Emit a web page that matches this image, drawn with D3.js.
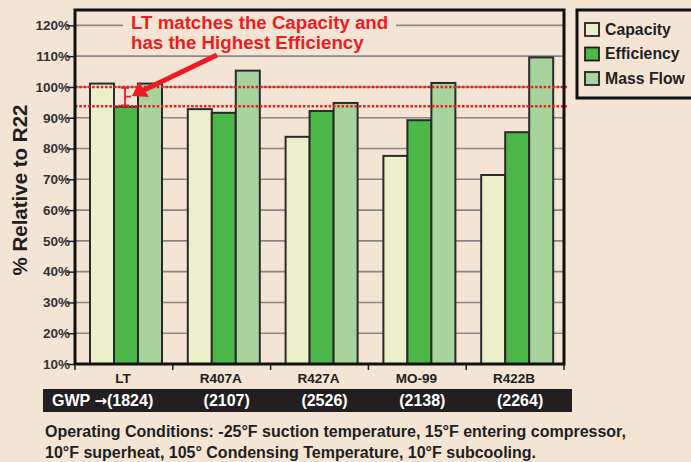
<!DOCTYPE html>
<html>
<head>
<meta charset="utf-8">
<script src="https://cdn.jsdelivr.net/npm/d3@7"></script>
<style>
  body { margin: 0; background: #f3e4d3; }
  svg { display: block; font-family: "Liberation Sans", Arial, sans-serif; font-weight: bold; }
</style>
</head>
<body>
<div id="root"></div>
<script>
const categories = ["LT", "R407A", "R427A", "MO-99", "R422B"];
const gwpValues = ["1824", "2107", "2526", "2138", "2264"];
const seriesNames = ["Capacity", "Efficiency", "Mass Flow"];
const capacity = [101.1, 92.8, 83.8, 77.6, 71.4];
const efficiency = [93.6, 91.6, 92.2, 89.2, 85.3];
const massFlow = [101.1, 105.3, 94.8, 101.3, 109.6];
const yTicks = [10, 20, 30, 40, 50, 60, 70, 80, 90, 100, 110, 120];
const refLines = [100, 93.7];

const colors = ["#ebf0cb", "#4cb648", "#a7d49d"];
const ink = "#231f20";
const red = "#ec1c24";
const bg = "#f3e4d3";

const width = 691, height = 462;
const plot = { left: 75, right: 564, top: 10, bottom: 364 };

const svg = d3.select("#root").append("svg")
	.attr("width", width)
	.attr("height", height);

svg.append("rect").attr("width", width).attr("height", height).attr("fill", bg);

// scales
const y = d3.scaleLinear().domain([10, 125]).range([plot.bottom, plot.top]);
const x0 = d3.scaleBand().domain(categories).range([plot.left, plot.right]);
const x1 = d3.scaleBand().domain(seriesNames).range([15, 87]);

const rows = categories.map((c, i) => ({
	cat: c,
	values: [capacity[i], efficiency[i], massFlow[i]]
}));

// grid lines
svg.append("g")
	.selectAll("line")
	.data(yTicks.slice(1))
	.enter().append("line")
		.attr("x1", plot.left).attr("x2", plot.right)
		.attr("y1", d => y(d)).attr("y2", d => y(d))
		.style("stroke", "#8a8784")
		.style("stroke-width", 1.6);

// y axis ticks and labels
const yAxis = svg.append("g").attr("transform", `translate(${plot.left},0)`)
	.call(d3.axisLeft(y).tickValues(yTicks).tickFormat(d => d + "%").tickSize(8).tickPadding(-3));
yAxis.select(".domain").remove();
yAxis.selectAll(".tick line").style("stroke", ink).style("stroke-width", 1.5);
yAxis.selectAll(".tick text")
	.style("font-family", "'Liberation Sans', Arial, sans-serif")
	.style("font-weight", "bold")
	.style("font-size", "13.5px")
	.style("fill", "#333");

// x axis tick marks at band edges
svg.append("g")
	.selectAll("line")
	.data(categories.map(c => x0(c)).concat([plot.right]))
	.enter().append("line")
		.attr("x1", d => d).attr("x2", d => d)
		.attr("y1", plot.bottom).attr("y2", plot.bottom + 6)
		.style("stroke", ink).style("stroke-width", 1.5);

// bars
const groups = svg.selectAll(".group")
	.data(rows).enter()
	.append("g")
		.attr("class", "group")
		.attr("transform", d => `translate(${x0(d.cat)},0)`);

groups.selectAll("rect")
	.data(d => d.values.map((v, i) => ({ v, s: seriesNames[i], i })))
	.enter().append("rect")
		.attr("x", d => x1(d.s))
		.attr("y", d => y(d.v))
		.attr("width", x1.bandwidth())
		.attr("height", d => plot.bottom - y(d.v))
		.style("fill", d => colors[d.i])
		.style("stroke", "#2a2a2a")
		.style("stroke-width", 2);

// red dotted reference lines
svg.append("g")
	.selectAll("line")
	.data(refLines).enter()
	.append("line")
		.attr("x1", plot.left).attr("x2", plot.right + 3)
		.attr("y1", d => y(d)).attr("y2", d => y(d))
		.style("stroke", red)
		.style("stroke-width", 2.5)
		.style("stroke-dasharray", "2.5,1.8");

// plot frame
svg.append("rect")
	.attr("x", plot.left).attr("y", plot.top)
	.attr("width", plot.right - plot.left)
	.attr("height", plot.bottom - plot.top)
	.style("fill", "none")
	.style("stroke", "#111")
	.style("stroke-width", 3);

// annotation
svg.append("rect")
	.attr("x", 123).attr("y", 14).attr("width", 273).attr("height", 38)
	.style("fill", bg);

const note = svg.append("text")
	.style("fill", red)
	.style("font-size", "18.7px");
note.append("tspan").attr("x", 131).attr("y", 29).text("LT matches the Capacity and");
note.append("tspan").attr("x", 131).attr("y", 49).text("has the Highest Efficiency");

// arrow
svg.append("line")
	.attr("x1", 217).attr("y1", 55)
	.attr("x2", 144).attr("y2", 90)
	.style("stroke", red).style("stroke-width", 5);
svg.append("path")
	.attr("d", "M132,96 L139,82 L149,97 Z")
	.style("fill", red);

// bracket between lines
const bTop = y(refLines[0]) + 1, bBot = y(refLines[1]) - 1;
svg.append("path")
	.attr("d", `M121,${bTop} L129,${bTop} M125,${bTop} L125,${bBot} M121,${bBot} L129,${bBot} M125,${(bTop + bBot) / 2} L131,${(bTop + bBot) / 2}`)
	.style("stroke", red).style("stroke-width", 1.8).style("fill", "none");

// category labels
svg.append("g")
	.selectAll("text")
	.data(categories).enter()
	.append("text")
		.attr("x", d => x0(d) + x0.bandwidth() / 2 - 1)
		.attr("y", 383)
		.attr("text-anchor", "middle")
		.style("font-size", "13.5px")
		.style("fill", ink)
		.text(d => d);

// GWP band
svg.append("rect")
	.attr("x", 43).attr("y", 389).attr("width", 529).attr("height", 23)
	.style("fill", ink);

const gwpText = svg.append("g")
	.selectAll("text")
	.data(gwpValues).enter()
	.append("text")
		.attr("x", (d, i) => i === 0 ? 52 : x0(categories[i]) + x0.bandwidth() / 2 + 5)
		.attr("y", 406)
		.attr("text-anchor", (d, i) => i === 0 ? "start" : "middle")
		.style("font-size", "16px")
		.style("fill", "#fff");
gwpText.filter((d, i) => i === 0).each(function(d) {
	const t = d3.select(this);
	t.append("tspan").text("GWP ");
	t.append("tspan").style("font-family", "'DejaVu Sans', sans-serif").style("font-size", "15px").text("\u2192");
	t.append("tspan").text(`(${d})`);
});
gwpText.filter((d, i) => i > 0).text(d => `(${d})`);

// y axis title
svg.append("text")
	.attr("transform", "translate(27,190) rotate(-90)")
	.attr("text-anchor", "middle")
	.style("font-size", "20.5px")
	.style("fill", ink)
	.text("% Relative to R22");

// legend
const legend = svg.append("g");
legend.append("rect")
	.attr("x", 577).attr("y", 10).attr("width", 130).attr("height", 88)
	.style("fill", "none").style("stroke", "#111").style("stroke-width", 3);

const items = legend.selectAll(".item")
	.data(seriesNames).enter()
	.append("g")
		.attr("transform", (d, i) => `translate(585,${23 + i * 24.5})`);
items.append("rect")
	.attr("width", 14).attr("height", 13)
	.style("fill", (d, i) => colors[i])
	.style("stroke", ink).style("stroke-width", 1.8);
items.append("text")
	.attr("x", 20).attr("y", 11.5)
	.style("font-size", "15.8px")
	.style("fill", ink)
	.text(d => d);

// footnote
const foot = svg.append("text")
	.style("font-size", "16px")
	.style("fill", ink);
foot.append("tspan").attr("x", 45).attr("y", 437)
	.text("Operating Conditions: -25\u00b0F suction temperature, 15\u00b0F entering compressor,");
foot.append("tspan").attr("x", 45).attr("y", 458)
	.text("10\u00b0F superheat, 105\u00b0 Condensing Temperature, 10\u00b0F subcooling.");
</script>
</body>
</html>
